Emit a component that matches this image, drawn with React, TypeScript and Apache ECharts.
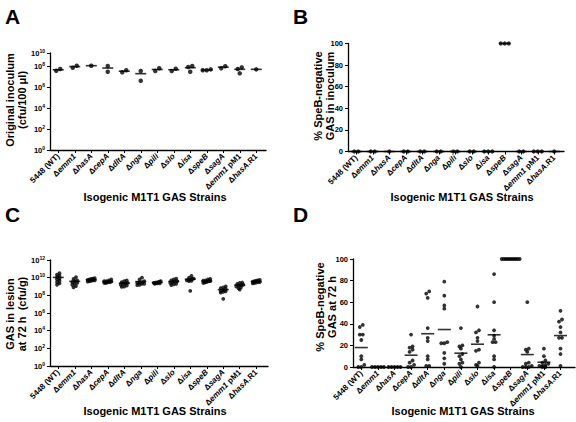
import React, { useEffect, useRef } from "react";
import * as echarts from "echarts";

// ---------- data ----------
const strains = [
  "5448 (WT)", "Δemm1", "ΔhasA", "ΔcepA", "ΔdltA", "Δnga", "Δpili",
  "Δslo", "Δisa", "ΔspeB", "ΔsagA", "Δemm1 pM1", "ΔhasA.R1",
];

// A: original inoculum, log10 cfu/100 µl
const inoculumLog = [
  [7.56, 7.72], [7.85, 8.04], [8.04], [8.01, 7.46], [7.41, 7.6], [7.53, 6.61],
  [7.53, 7.79], [7.53, 7.75], [8.01, 7.91, 7.46], [7.69, 7.6, 7.6], [7.79, 7.98],
  [7.88, 7.72, 7.31], [7.69],
];

// B: % SpeB-negative GAS in inoculum
const inoculumSpeBNeg = [
  [0, 0], [0, 0], [0], [0, 0], [0, 0], [0, 0], [0, 0], [0, 0], [0, 0, 0],
  [100, 100, 100], [0, 0], [0, 0, 0], [0],
];

// C: GAS in lesion at 72 h, log10 cfu/g
const lesionLog = [
  [10.5, 10.35, 10.2, 10.05, 9.9, 9.8, 9.65, 9.5, 9.35, 9.2],
  [10.05, 9.85, 9.7, 9.6, 9.5, 9.4, 9.3, 9.2, 9.05, 8.9],
  [9.95, 9.9, 9.85, 9.8, 9.75, 9.7, 9.7, 9.65, 9.6, 9.55],
  [9.8, 9.7, 9.6, 9.6, 9.55, 9.5, 9.5, 9.45, 9.4, 9.4],
  [9.7, 9.6, 9.5, 9.4, 9.35, 9.3, 9.2, 9.1, 9.0, 8.95],
  [10.0, 9.8, 9.6, 9.5, 9.45, 9.4, 9.3, 9.3, 9.2, 9.15],
  [9.6, 9.55, 9.5, 9.45, 9.45, 9.4, 9.4, 9.35, 9.35, 9.3],
  [9.9, 9.8, 9.7, 9.6, 9.55, 9.5, 9.4, 9.3, 9.25, 9.15],
  [10.2, 10.0, 9.9, 9.85, 9.8, 9.75, 9.7, 9.65, 9.6, 8.5],
  [9.85, 9.8, 9.7, 9.65, 9.6, 9.6, 9.55, 9.5, 9.45, 9.4],
  [9.0, 8.9, 8.8, 8.7, 8.6, 8.5, 8.45, 8.4, 8.3, 7.6],
  [9.45, 9.4, 9.3, 9.2, 9.15, 9.1, 9.0, 8.9, 8.8, 8.65],
  [9.75, 9.7, 9.65, 9.6, 9.55, 9.5, 9.5, 9.45, 9.4, 9.35],
];

// D: % SpeB-negative GAS at 72 h
const lesionSpeBNeg = [
  [39, 37, 30, 30, 25, 10, 7, 2, 0, 0],
  [0, 0, 0, 0, 0],
  [0, 0, 0, 0, 0],
  [30, 19, 18, 16, 14, 6, 4, 2, 0, 0],
  [70, 68, 64, 36, 27, 24, 10, 7, 1, 1],
  [79, 66, 57, 54, 23, 22, 22, 13, 8, 3],
  [36, 20, 19, 17, 12, 10, 7, 4, 3, 0],
  [56, 34, 32, 27, 24, 16, 15, 4, 2, 1],
  [86, 60, 34, 29, 26, 23, 23, 10, 7, 0],
  [100, 100, 100, 100, 100, 100, 100, 100, 100, 100],
  [60, 17, 16, 14, 4, 3, 1, 0, 0, 0],
  [17, 10, 6, 4, 3, 2, 1, 1, 0, 0],
  [52, 44, 42, 37, 32, 27, 27, 17, 12, 1],
];

const logTickExpA = ["0", "2", "4", "6", "8", "10"];
const logTickExpC = ["0", "2", "4", "6", "8", "10", "12"];
const pctTicks = [0, 20, 40, 60, 80, 100];

const titlesY = {
  A: "Original inoculum\n(cfu/100 μl)",
  B: "% SpeB-negative\nGAS in inoculum",
  C: "GAS in lesion\nat 72 h  (cfu/g)",
  D: "% SpeB-negative\nGAS at 72 h",
};
const titleX = "Isogenic M1T1 GAS Strains";

// ---------- helpers ----------
const FONT = "'Liberation Sans', Arial, Helvetica, sans-serif";

function strainLabel(s: string) {
  const m = /^Δ([A-Za-z0-9]+)(.*)$/.exec(s);
  if (!m) return `{p|${s}}`;
  return `{p|Δ}{i|${m[1]}}` + (m[2] ? `{p|${m[2]}}` : "");
}

function swarm(vals: number[], pxPerY: number, bandPx: number, tol: number, sp: number, maxW: number) {
  const idx = vals.map((_, i) => i).sort((a, b) => vals[b] - vals[a]);
  const rows: number[][] = [];
  let cur: number[] = [];
  let start = 0;
  for (const i of idx) {
    const py = vals[i] * pxPerY;
    if (cur.length && start - py > tol) {
      rows.push(cur);
      cur = [];
    }
    if (!cur.length) start = py;
    cur.push(i);
  }
  if (cur.length) rows.push(cur);
  const off = new Array(vals.length).fill(0);
  rows.forEach((r) => {
    const k = r.length;
    const s = k > 1 ? Math.min(sp, maxW / (k - 1)) : 0;
    const ordered = [...r].sort((a, b) => vals[a] - vals[b]);
    ordered.forEach((i, j) => {
      off[i] = ((j - (k - 1) / 2) * s) / bandPx;
    });
  });
  return off;
}

type Panel = {
  letter: "A" | "B" | "C" | "D";
  left: number; top: number; width: number; height: number; band: number;
  ymax: number; log: boolean; tickPos: number[]; tickText: string[];
  data: number[][]; dot: number; meanW: number; tol: number; sp: number; maxW: number;
  letterPos: [number, number]; yTitlePos: [number, number]; xTitlePos: [number, number];
};

const panels: Panel[] = [
  {
    letter: "A", left: 50, top: 53, width: 216, height: 97, band: 16.5,
    ymax: 9.25, log: true, tickPos: [0, 2, 4, 6, 8, 9.25], tickText: logTickExpA,
    data: inoculumLog, dot: 4.5, meanW: 11, tol: 3.6, sp: 4, maxW: 12,
    letterPos: [5, 16], yTitlePos: [15.5, 100], xTitlePos: [155, 197],
  },
  {
    letter: "B", left: 348, top: 43.5, width: 216, height: 108, band: 16.5,
    ymax: 100, log: false, tickPos: pctTicks, tickText: pctTicks.map(String),
    data: inoculumSpeBNeg, dot: 4.3, meanW: 11, tol: 3.6, sp: 4, maxW: 12,
    letterPos: [293, 16], yTitlePos: [324, 96], xTitlePos: [462, 197],
  },
  {
    letter: "C", left: 50, top: 260, width: 218, height: 106, band: 16.5,
    ymax: 12, log: true, tickPos: [0, 2, 4, 6, 8, 10, 12], tickText: logTickExpC,
    data: lesionLog, dot: 3.8, meanW: 11, tol: 2.2, sp: 2.5, maxW: 7,
    letterPos: [5, 214], yTitlePos: [15.5, 314], xTitlePos: [155, 411],
  },
  {
    letter: "D", left: 353, top: 259, width: 222, height: 108, band: 16.6,
    ymax: 100, log: false, tickPos: pctTicks, tickText: pctTicks.map(String),
    data: lesionSpeBNeg, dot: 3.8, meanW: 13, tol: 3.2, sp: 3, maxW: 18,
    letterPos: [293, 214], yTitlePos: [326, 307], xTitlePos: [463, 411],
  },
];

function buildOption() {
  const grid: any[] = [];
  const xAxis: any[] = [];
  const yAxis: any[] = [];
  const series: any[] = [];
  const graphic: any[] = [];
  const catTicks = strains.map((_, i) => i);

  panels.forEach((p, gi) => {
    grid.push({ left: p.left, top: p.top, width: p.width, height: p.height, outerBoundsMode: "none", containLabel: false });
    xAxis.push({
      type: "value", gridIndex: gi, min: -0.5, max: -0.5 + p.width / p.band,
      axisLine: { show: true, onZero: false, lineStyle: { color: "#000", width: 1.3 } },
      axisTick: { show: true, customValues: catTicks, length: 3, lineStyle: { color: "#000", width: 1 } },
      axisLabel: {
        customValues: catTicks, rotate: 45, margin: 5, color: "#000",
        formatter: (v: number) => strainLabel(strains[Math.round(v)]),
        rich: {
          p: { fontSize: 8, fontWeight: "bold", fontFamily: FONT, color: "#000" },
          i: { fontSize: 8, fontWeight: "bold", fontStyle: "italic", fontFamily: FONT, color: "#000" },
        },
      },
      splitLine: { show: false },
    });
    yAxis.push({
      type: "value", gridIndex: gi, min: 0, max: p.ymax,
      axisLine: { show: true, onZero: false, lineStyle: { color: "#000", width: 1.3 } },
      axisTick: { show: true, customValues: p.tickPos, length: 3, lineStyle: { color: "#000", width: 1 } },
      axisLabel: {
        customValues: p.tickPos, margin: 5, color: "#000",
        fontSize: 7.5, fontWeight: "bold", fontFamily: FONT,
        formatter: (v: number) => {
          const k = p.tickPos.findIndex((t) => Math.abs(t - v) < 1e-6);
          const t = p.tickText[k < 0 ? 0 : k];
          return p.log ? `{b|10}{s|${t}}` : `{b|${t}}`;
        },
        rich: {
          b: { fontSize: 7.5, fontWeight: "bold", fontFamily: FONT, color: "#000", lineHeight: 10 },
          s: { fontSize: 5, fontWeight: "bold", fontFamily: FONT, color: "#000", lineHeight: 6, verticalAlign: "top" },
        },
      },
      splitLine: { show: false },
    });

    const pxPerY = p.height / p.ymax;
    const pts: number[][] = [];
    const means: number[][] = [];
    p.data.forEach((vals, ci) => {
      const off = swarm(vals, pxPerY, p.band, p.tol, p.sp, p.maxW);
      vals.forEach((v, j) => pts.push([ci + off[j], v]));
      const m = p.log
        ? Math.log10(vals.reduce((s, v) => s + Math.pow(10, v), 0) / vals.length)
        : vals.reduce((s, v) => s + v, 0) / vals.length;
      means.push([ci, m]);
    });
    series.push({
      type: "scatter", xAxisIndex: gi, yAxisIndex: gi, data: pts, symbol: "circle",
      symbolSize: p.dot, itemStyle: { color: "#000" }, silent: true, z: 3,
    });
    series.push({
      type: "scatter", xAxisIndex: gi, yAxisIndex: gi, data: means, symbol: "rect",
      symbolSize: [p.meanW, 1.6], itemStyle: { color: "#000" }, silent: true, z: 4,
    });

    graphic.push({
      type: "text", x: p.letterPos[0], y: p.letterPos[1],
      style: { text: p.letter, font: `bold 21px ${FONT}`, fill: "#000", textAlign: "left", textVerticalAlign: "middle" },
    });
    graphic.push({
      type: "text", x: p.yTitlePos[0], y: p.yTitlePos[1], rotation: Math.PI / 2,
      style: {
        text: titlesY[p.letter], font: `bold 11px ${FONT}`, fill: "#000",
        textAlign: "center", textVerticalAlign: "middle", lineHeight: 12,
      },
    });
    graphic.push({
      type: "text", x: p.xTitlePos[0], y: p.xTitlePos[1],
      style: { text: titleX, font: `bold 11px ${FONT}`, fill: "#000", textAlign: "center", textVerticalAlign: "middle" },
    });
  });

  return { animation: false, backgroundColor: "#fff", grid, xAxis, yAxis, series, graphic };
}

export default function App() {
  const ref = useRef<HTMLDivElement>(null);
  useEffect(() => {
    const chart = echarts.init(ref.current!, null, { renderer: "svg" });
    chart.setOption(buildOption() as any);
    return () => chart.dispose();
  }, []);
  return (
    <div
      ref={ref}
      style={{ position: "fixed", left: 0, top: 0, width: 576, height: 422, background: "#fff" }}
    />
  );
}
